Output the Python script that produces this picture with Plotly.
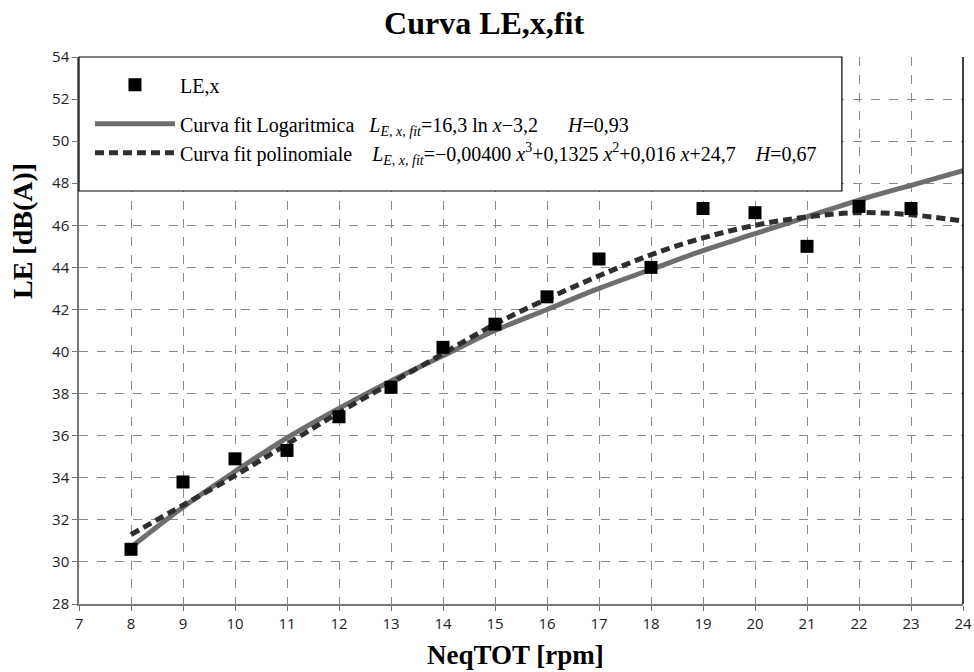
import plotly.graph_objects as go

# Measured points
x_pts = [8, 9, 10, 11, 12, 13, 14, 15, 16, 17, 18, 19, 20, 21, 22, 23]
le_pts = [30.6, 33.8, 34.9, 35.3, 36.9, 38.3, 40.2, 41.3, 42.6, 44.4, 44.0, 46.8, 46.6, 45.0, 46.9, 46.8]

# Fit curves at integer x
x_fit = [8, 9, 10, 11, 12, 13, 14, 15, 16, 17, 18, 19, 20, 21, 22, 23, 24]
log_fit = [30.7, 32.6, 34.3, 35.9, 37.3, 38.6, 39.8, 41.0, 42.0, 43.0, 43.9, 44.8, 45.6, 46.4, 47.2, 47.9, 48.6]
poly_fit = [31.3, 32.7, 34.1, 35.6, 37.1, 38.5, 39.9, 41.3, 42.5, 43.6, 44.6, 45.4, 46.0, 46.4, 46.6, 46.5, 46.2]

x_ticks = list(range(7, 25))
y_ticks = list(range(28, 55, 2))

SERIF = "Liberation Serif, Times New Roman, serif"
SANS = "Open Sans, DejaVu Sans, sans-serif"
NB = "&nbsp;"

name_pts = "LE,x"
name_log = ("Curva fit Logaritmica" + NB * 3 +
            "<i>L</i><sub><i>E, x, fit</i></sub>=16,3 ln <i>x</i>−3,2" + NB * 6 + "<i>H</i>=0,93")
name_poly = ("Curva fit polinomiale" + NB * 4 +
             "<i>L</i><sub><i>E, x, fit</i></sub>=−0,00400 <i>x</i><sup>3</sup>+0,1325 <i>x</i><sup>2</sup>"
             "+0,016 <i>x</i>+24,7" + NB * 4 + "<i>H</i>=0,67")

fig = go.Figure()
fig.add_trace(go.Scatter(x=x_fit, y=log_fit, mode="lines", name=name_log,
                         line=dict(color="#6e6e6e", width=5, shape="spline"),
                         legendgroup="b", legendrank=2))
fig.add_trace(go.Scatter(x=x_fit, y=poly_fit, mode="lines", name=name_poly,
                         line=dict(color="#2e2e2e", width=5, dash="9px,5px", shape="spline"),
                         legendgroup="b", legendrank=3))
fig.add_trace(go.Scatter(x=x_pts, y=le_pts, mode="markers", name=name_pts,
                         marker=dict(symbol="square", size=13, color="black"),
                         legendgroup="a", legendrank=1))

fig.update_layout(
    width=974, height=672, autosize=False,
    margin=dict(l=79, r=11, t=57, b=68, autoexpand=False),
    paper_bgcolor="white", plot_bgcolor="white",
    title=dict(text="<b>Curva LE,x,fit</b>", x=0.497, xanchor="center", y=0.966, yanchor="middle",
               font=dict(family=SERIF, size=32, color="black")),
    showlegend=True,
    legend=dict(x=0.0124, y=0.985, xanchor="left", yanchor="top",
                bgcolor="rgba(0,0,0,0)", borderwidth=0,
                font=dict(family=SERIF, size=20, color="black"),
                itemwidth=80, tracegroupgap=10, traceorder="grouped"),
    shapes=[
        dict(type="rect", xref="paper", yref="paper", x0=0, x1=0.863, y0=0.755, y1=1.0,
             fillcolor="white", line=dict(color="black", width=1.2), layer="above"),
        dict(type="line", xref="paper", yref="paper", x0=1, x1=1, y0=0, y1=1,
             line=dict(color="black", width=1.5), layer="above"),
    ],
    annotations=[
        dict(text="<b>NeqTOT [rpm]</b>", xref="paper", yref="paper", x=0.494, y=-0.093,
             xanchor="center", yanchor="middle", showarrow=False,
             font=dict(family=SERIF, size=27, color="black")),
        dict(text="<b>LE [dB(A)]</b>", xref="paper", yref="paper", x=-0.0633, y=0.682,
             xanchor="center", yanchor="middle", showarrow=False, textangle=-90,
             font=dict(family=SERIF, size=28, color="black")),
    ],
)

fig.update_xaxes(range=[7, 24], tickvals=x_ticks, ticktext=[str(v) for v in x_ticks],
                 showgrid=True, gridcolor="#8a8a8a", griddash="dash", gridwidth=1,
                 showline=True, linecolor="#777777", linewidth=1.5,
                 ticks="outside", ticklen=5, tickcolor="#777777",
                 tickfont=dict(family=SANS, size=15, color="#222222"),
                 zeroline=False, automargin=False)
fig.update_yaxes(range=[28, 54], tickvals=y_ticks, ticktext=[str(v) for v in y_ticks],
                 showgrid=True, gridcolor="#8a8a8a", griddash="dash", gridwidth=1,
                 showline=True, linecolor="#777777", linewidth=1.5,
                 ticks="outside", ticklen=5, tickcolor="#777777",
                 tickfont=dict(family=SANS, size=15, color="#222222"),
                 zeroline=False, automargin=False)

fig.write_html("out.html", config={"displayModeBar": False},
               post_script="document.body.style.margin='0';document.body.style.overflow='hidden';")
